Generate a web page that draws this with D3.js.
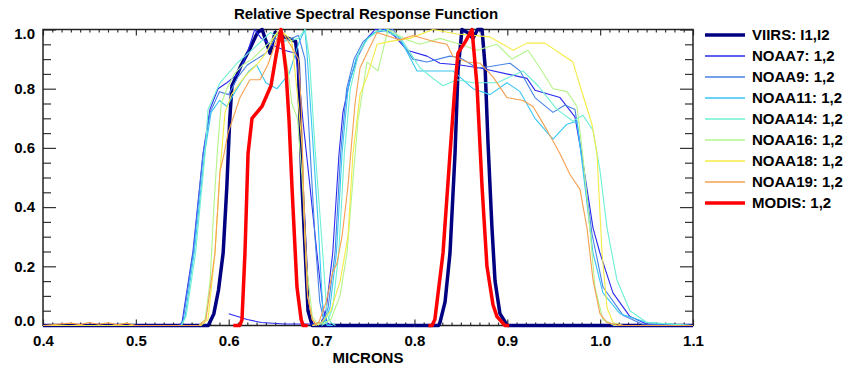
<!DOCTYPE html>
<html>
<head>
<meta charset="utf-8">
<script src="https://cdn.jsdelivr.net/npm/d3@7"></script>
<style>
  body { margin: 0; background: #fff; }
  svg text { font-family: "Liberation Sans", Arial, sans-serif; font-weight: bold; fill: #000; }
</style>
</head>
<body>
<div id="root"></div>
<script>
// legend names
const seriesNames = ["VIIRS: I1,I2", "NOAA7: 1,2", "NOAA9: 1,2", "NOAA11: 1,2", "NOAA14: 1,2",
  "NOAA16: 1,2", "NOAA18: 1,2", "NOAA19: 1,2", "MODIS: 1,2"];

// [micron, response]
const viirsI1 = [[0.40,0],[0.578,0],[0.584,0.04],[0.589,0.12],[0.594,0.245],[0.598,0.47],[0.601,0.69],[0.6035,0.81],
  [0.608,0.84],[0.6135,0.88],[0.622,0.93],[0.631,0.99],[0.636,1.0],[0.6445,0.92],[0.650,0.99],[0.660,0.975],
  [0.672,0.96],[0.675,0.88],[0.679,0.47],[0.6854,0.05],[0.690,0],[0.80,0]];
const viirsI2 = [[0.80,0],[0.826,0],[0.8275,0.01],[0.833,0.08],[0.8383,0.245],[0.8437,0.58],[0.8469,0.86],[0.8512,1.0],
  [0.857,0.99],[0.863,0.97],[0.868,1.0],[0.8728,1.0],[0.876,0.88],[0.8792,0.62],[0.8835,0.33],[0.8868,0.15],
  [0.8921,0.04],[0.900,0],[1.1,0]];

const noaa7B1 = [[0.40,0],[0.546,0],[0.5497,0.01],[0.5615,0.25],[0.5723,0.58],[0.5798,0.73],[0.5885,0.80],[0.598,0.82],
  [0.61,0.85],[0.62,0.92],[0.628,1.0],[0.635,0.97],[0.645,0.95],[0.66,0.93],[0.672,0.92],[0.6768,0.80],[0.680,0.69],
  [0.6875,0.47],[0.695,0.245],[0.7015,0.06],[0.7058,0.01],[0.71,0]];
const noaa7B2 = [[0.60,0.04],[0.62,0.02],[0.635,0.01],[0.66,0.005],[0.69,0.005],[0.70,0.01],[0.7048,0.05],[0.712,0.245],
  [0.7188,0.58],[0.723,0.72],[0.7306,0.83],[0.7392,0.91],[0.7489,0.97],[0.7575,1.0],[0.768,1.0],[0.778,0.98],[0.792,0.93],
  [0.8135,0.91],[0.8275,0.886],[0.8491,0.88],[0.8706,0.87],[0.9212,0.835],[0.9298,0.795],[0.9568,0.77],[0.9729,0.705],
  [0.9815,0.55],[0.9923,0.33],[0.9998,0.245],[1.0138,0.11],[1.0321,0.03],[1.05,0.005],[1.1,0]];

const noaa9B1 = [[0.40,0],[0.548,0],[0.551,0.02],[0.562,0.25],[0.5725,0.58],[0.58,0.72],[0.59,0.79],[0.60,0.78],
  [0.61,0.84],[0.62,0.88],[0.63,0.90],[0.64,0.92],[0.65,0.97],[0.66,0.96],[0.675,0.98],[0.6822,0.9],[0.6875,0.6],
  [0.6929,0.3],[0.698,0.08],[0.703,0.01],[0.71,0]];
const noaa9B2 = [[0.69,0],[0.702,0.01],[0.707,0.06],[0.7145,0.245],[0.7205,0.58],[0.727,0.80],[0.735,0.90],[0.745,0.96],
  [0.757,0.99],[0.7769,1.0],[0.7984,0.90],[0.8135,0.89],[0.8383,0.91],[0.8491,0.905],[0.8674,0.87],[0.8814,0.875],
  [0.903,0.886],[0.9137,0.86],[0.9298,0.77],[0.9492,0.72],[0.9621,0.745],[0.9729,0.73],[0.9815,0.55],[0.9912,0.31],
  [1.003,0.13],[1.0246,0.035],[1.045,0.005],[1.1,0]];

const noaa11B1 = [[0.40,0],[0.549,0],[0.553,0.03],[0.563,0.25],[0.574,0.58],[0.581,0.72],[0.59,0.76],[0.598,0.74],
  [0.607,0.79],[0.615,0.83],[0.622,0.86],[0.63,0.88],[0.64,0.82],[0.652,0.80],[0.665,0.85],[0.675,0.95],[0.682,1.0],
  [0.6843,0.92],[0.6961,0.356],[0.7015,0.04],[0.706,0],[0.712,0]];
const noaa11B2 = [[0.69,0],[0.703,0.01],[0.709,0.06],[0.716,0.245],[0.722,0.58],[0.7285,0.80],[0.737,0.90],[0.747,0.96],
  [0.757,0.99],[0.7704,1.0],[0.7844,0.97],[0.8028,0.86],[0.8275,0.86],[0.8415,0.86],[0.8631,0.80],[0.8814,0.78],
  [0.8997,0.82],[0.9137,0.79],[0.9298,0.70],[0.9492,0.63],[0.9643,0.68],[0.9751,0.69],[0.9815,0.525],[0.9923,0.245],
  [1.003,0.11],[1.0214,0.04],[1.0504,0.01],[1.1,0]];

const noaa14B1 = [[0.40,0],[0.549,0],[0.554,0.03],[0.5645,0.25],[0.5745,0.58],[0.5777,0.73],[0.5906,0.82],[0.6089,0.886],
  [0.6229,0.925],[0.635,0.96],[0.645,0.99],[0.655,0.97],[0.665,0.96],[0.675,0.97],[0.6822,1.0],[0.687,0.90],
  [0.6929,0.6],[0.70,0.3],[0.7058,0.04],[0.71,0.01],[0.715,0]];
const noaa14B2 = [[0.70,0],[0.706,0.01],[0.712,0.06],[0.7185,0.245],[0.7245,0.58],[0.731,0.80],[0.74,0.92],[0.75,0.97],
  [0.7629,1.0],[0.7844,0.975],[0.806,0.87],[0.82,0.835],[0.8307,0.81],[0.8458,0.83],[0.8631,0.82],[0.8889,0.82],
  [0.9169,0.86],[0.9331,0.81],[0.9535,0.73],[0.9708,0.69],[0.9815,0.71],[0.9923,0.66],[0.9998,0.525],[1.0074,0.33],
  [1.0181,0.154],[1.0321,0.05],[1.0504,0.01],[1.1,0]];

const noaa16B1 = [[0.40,0],[0.568,0],[0.5745,0.02],[0.58,0.15],[0.584,0.4],[0.588,0.6],[0.592,0.75],[0.598,0.80],
  [0.606,0.85],[0.615,0.88],[0.625,0.90],[0.635,0.93],[0.645,0.96],[0.652,0.99],[0.66,0.93],[0.664,0.86],[0.668,0.75],
  [0.674,0.70],[0.679,0.5],[0.684,0.2],[0.69,0.03],[0.697,0]];
const noaa16B2 = [[0.69,0],[0.700,0.005],[0.71,0.02],[0.7198,0.1],[0.7274,0.245],[0.734,0.5],[0.7392,0.69],[0.7489,0.89],
  [0.7607,0.86],[0.7715,1.0],[0.792,0.965],[0.806,0.95],[0.8275,0.97],[0.8491,0.95],[0.8674,0.93],[0.8889,0.95],
  [0.9051,0.90],[0.9223,0.93],[0.9352,0.87],[0.9492,0.80],[0.9643,0.79],[0.9751,0.74],[0.9804,0.60],[0.9869,0.40],
  [0.9944,0.13],[1.003,0.02],[1.015,0],[1.1,0]];

const noaa18B1 = [[0.40,0],[0.57,0],[0.5777,0.02],[0.5852,0.245],[0.5906,0.52],[0.596,0.72],[0.603,0.78],[0.612,0.82],
  [0.62,0.85],[0.63,0.88],[0.64,0.92],[0.648,0.97],[0.655,1.0],[0.662,0.98],[0.668,0.96],[0.675,0.75],[0.6792,0.6],
  [0.682,0.3],[0.685,0.1],[0.69,0.02],[0.695,0]];
const noaa18B2 = [[0.69,0],[0.70,0.01],[0.71,0.05],[0.72,0.15],[0.7284,0.3],[0.7338,0.58],[0.7414,0.78],[0.7489,0.84],
  [0.7597,0.95],[0.7737,0.96],[0.7952,0.97],[0.82,1.0],[0.8458,0.985],[0.8814,0.975],[0.9062,0.93],[0.9212,0.954],
  [0.9406,0.954],[0.9568,0.92],[0.9708,0.89],[0.9783,0.81],[0.9912,0.68],[0.9966,0.58],[1.002,0.245],[1.0074,0.06],
  [1.0138,0.01],[1.025,0],[1.1,0]];

const noaa19B1 = [[0.40,0],[0.43,0.008],[0.44,0.003],[0.45,0.01],[0.46,0.004],[0.47,0.009],[0.48,0.002],[0.49,0.008],
  [0.50,0],[0.568,0],[0.5755,0.02],[0.5852,0.245],[0.5906,0.52],[0.595,0.58],[0.5992,0.65],[0.6035,0.69],[0.6121,0.77],
  [0.6229,0.83],[0.6337,0.83],[0.642,0.88],[0.65,0.95],[0.656,1.0],[0.662,0.97],[0.67,0.93],[0.675,0.90],[0.678,0.75],
  [0.681,0.4],[0.685,0.1],[0.69,0.02],[0.695,0]];
const noaa19B2 = [[0.69,0],[0.697,0.01],[0.705,0.08],[0.712,0.18],[0.7166,0.21],[0.722,0.3],[0.7284,0.47],[0.736,0.75],
  [0.7414,0.87],[0.7489,0.92],[0.7597,0.99],[0.7844,0.965],[0.7984,0.98],[0.82,0.96],[0.835,0.95],[0.8415,0.91],
  [0.8566,0.89],[0.8706,0.886],[0.8846,0.84],[0.8997,0.77],[0.9169,0.76],[0.9277,0.74],[0.9428,0.66],[0.9568,0.58],
  [0.9675,0.51],[0.9783,0.46],[0.9858,0.33],[0.9923,0.154],[0.9998,0.04],[1.0074,0.01],[1.02,0],[1.1,0]];

const modisB1 = [[0.605,0],[0.612,0],[0.6143,0.02],[0.6175,0.245],[0.6208,0.58],[0.6251,0.70],[0.6358,0.74],[0.6455,0.81],
  [0.6509,0.91],[0.6563,1.0],[0.6617,0.86],[0.665,0.69],[0.6681,0.47],[0.6735,0.13],[0.678,0.02],[0.680,0],[0.685,0]];
const modisB2 = [[0.815,0],[0.819,0],[0.822,0.02],[0.8308,0.245],[0.8383,0.58],[0.8437,0.81],[0.8469,0.92],[0.855,0.96],
  [0.862,1.0],[0.8674,0.81],[0.8728,0.47],[0.8781,0.2],[0.8846,0.07],[0.8889,0.03],[0.8975,0],[0.902,0]];

const seriesBands = [[viirsI1, viirsI2], [noaa7B1, noaa7B2], [noaa9B1, noaa9B2], [noaa11B1, noaa11B2],
  [noaa14B1, noaa14B2], [noaa16B1, noaa16B2], [noaa18B1, noaa18B2], [noaa19B1, noaa19B2], [modisB1, modisB2]];

const xTicks = [0.4, 0.5, 0.6, 0.7, 0.8, 0.9, 1.0, 1.1];
const yTicks = [0, 0.2, 0.4, 0.6, 0.8, 1.0];

const colors = ["#000080", "#2a2aee", "#4682e6", "#38c6f4", "#6ef0d2", "#b4f58c", "#f5eb46", "#f5a050", "#ff0000"];
const widths = [3.5, 1.1, 1.1, 1.1, 1.1, 1.1, 1.1, 1.1, 3.5];

const W = 847, H = 366;
const plotL = 43, plotR = 693, plotT = 29.5, plotB = 325.5;

const svg = d3.select("#root").append("svg")
  .attr("width", W).attr("height", H);

const x = d3.scaleLinear().domain([0.4, 1.1]).range([plotL, plotR]);
const y = d3.scaleLinear().domain([0, 1]).range([plotB, plotT]);

const minorX = d3.range(40, 111).map(v => v / 100).filter(v => Math.round(v * 100) % 10 !== 0);
const minorY = d3.range(0, 21).map(v => v / 20).filter(v => Math.round(v * 20) % 4 !== 0);

const axes = svg.append("g");
function styleAxis(g) {
  g.select(".domain").remove();
  g.selectAll(".tick line").attr("stroke", "#333").attr("stroke-width", 1.2);
  g.selectAll(".tick text").style("font-size", "15px");
}

// left
axes.append("g").attr("transform", `translate(${plotL},0)`)
  .call(d3.axisLeft(y).tickValues(yTicks).tickSize(-13).tickPadding(8).tickFormat(d3.format(".1f")))
  .call(styleAxis)
  .call(g => g.selectAll(".tick text").attr("dy", d => d === 1 ? "0.62em" : d === 0 ? "0" : "0.32em"));
axes.append("g").attr("transform", `translate(${plotL},0)`)
  .call(d3.axisLeft(y).tickValues(minorY).tickSize(-8).tickFormat(""))
  .call(styleAxis);
// right
axes.append("g").attr("transform", `translate(${plotR},0)`)
  .call(d3.axisRight(y).tickValues(yTicks).tickSize(-13).tickFormat(""))
  .call(styleAxis);
axes.append("g").attr("transform", `translate(${plotR},0)`)
  .call(d3.axisRight(y).tickValues(minorY).tickSize(-8).tickFormat(""))
  .call(styleAxis);
// bottom
axes.append("g").attr("transform", `translate(0,${plotB})`)
  .call(d3.axisBottom(x).tickValues(xTicks).tickSize(-6).tickPadding(10).tickFormat(d3.format(".1f")))
  .call(styleAxis);
axes.append("g").attr("transform", `translate(0,${plotB})`)
  .call(d3.axisBottom(x).tickValues(minorX).tickSize(-3).tickFormat(""))
  .call(styleAxis);
// top
axes.append("g").attr("transform", `translate(0,${plotT})`)
  .call(d3.axisTop(x).tickValues(xTicks).tickSize(-6).tickFormat(""))
  .call(styleAxis);
axes.append("g").attr("transform", `translate(0,${plotT})`)
  .call(d3.axisTop(x).tickValues(minorX).tickSize(-3).tickFormat(""))
  .call(styleAxis);

axes.append("rect")
  .attr("x", plotL).attr("y", plotT)
  .attr("width", plotR - plotL).attr("height", plotB - plotT)
  .attr("fill", "none").attr("stroke", "#222").attr("stroke-width", 1.5);

// curves
const lineGen = d3.line().x(d => x(d[0])).y(d => y(d[1]));

const curves = svg.append("g");
seriesBands.forEach((bands, i) => {
  curves.selectAll(null)
    .data(bands)
    .enter()
    .append("path")
      .attr("d", lineGen)
      .attr("fill", "none")
      .attr("stroke", colors[i])
      .attr("stroke-width", widths[i])
      .attr("stroke-linejoin", "round");
});

// titles
svg.append("text")
  .text("Relative Spectral Response Function")
  .attr("x", (plotL + plotR) / 2 - 2).attr("y", 19)
  .attr("text-anchor", "middle")
  .style("font-size", "15px");
svg.append("text")
  .text("MICRONS")
  .attr("x", (plotL + plotR) / 2).attr("y", 363)
  .attr("text-anchor", "middle")
  .style("font-size", "15px");

// legend
const legend = svg.append("g").attr("transform", "translate(705,35)");
const rows = legend.selectAll("g")
  .data(seriesNames)
  .enter()
  .append("g")
    .attr("transform", (d, i) => `translate(0,${i * 21})`);
rows.append("line")
  .attr("x1", 0).attr("x2", 40)
  .attr("stroke", (d, i) => colors[i])
  .attr("stroke-width", (d, i) => widths[i] > 2 ? 3.5 : 1.6);
rows.append("text")
  .text(d => d)
  .attr("x", 47)
  .attr("dy", "0.36em")
  .style("font-size", "15px");
</script>
</body>
</html>
